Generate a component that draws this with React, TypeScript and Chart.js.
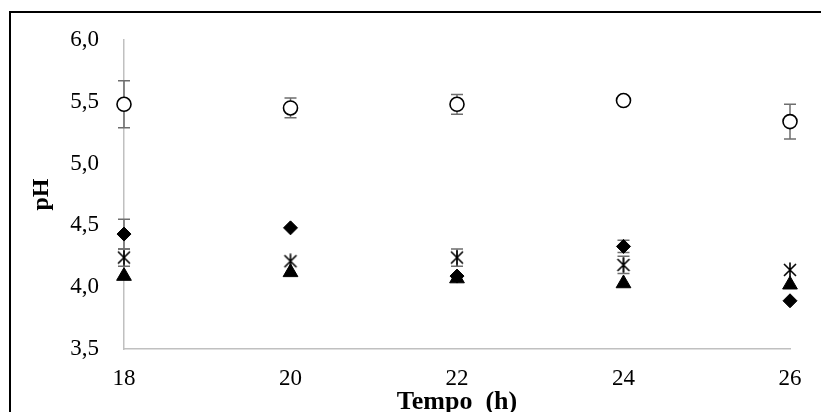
import React, { useEffect, useRef } from "react";
import { Chart, registerables } from "chart.js";

Chart.register(...registerables);

const hours = [18, 20, 22, 24, 26];
const xTicks = [18, 20, 22, 24, 26];
const yTicks = [3.5, 4.0, 4.5, 5.0, 5.5, 6.0];

const circleValues = [5.48, 5.45, 5.48, 5.51, 5.34];
const circleErrors = [0.19, 0.08, 0.08, 0, 0.14];

const diamondValues = [4.43, 4.48, 4.09, 4.33, 3.89];
const diamondErrors = [0.12, 0, 0, 0.05, 0];

const starValues = [4.24, 4.21, 4.24, 4.18, 4.14];
const starErrors = [0.07, 0, 0.07, 0.07, 0];

const triangleValues = [4.09, 4.12, 4.07, 4.03, 4.02];
const triangleErrors = [0, 0, 0, 0, 0];

const seriesErrors = [circleErrors, diamondErrors, starErrors, triangleErrors];

function makeStar(): HTMLCanvasElement {
  const c = document.createElement("canvas");
  const s = 16;
  c.width = s;
  c.height = s;
  const ctx = c.getContext("2d")!;
  ctx.strokeStyle = "#000";
  ctx.lineWidth = 1.6;
  ctx.beginPath();
  ctx.moveTo(2, 2);
  ctx.lineTo(14, 14);
  ctx.moveTo(14, 2);
  ctx.lineTo(2, 14);
  ctx.moveTo(8, 0.5);
  ctx.lineTo(8, 15.5);
  ctx.stroke();
  return c;
}

const errorBarPlugin = {
  id: "errorBars",
  beforeDatasetsDraw(chart: any) {
    const ctx = chart.ctx;
    const yScale = chart.scales.y;
    ctx.save();
    ctx.strokeStyle = "#6e6e6e";
    ctx.lineWidth = 1.5;
    chart.data.datasets.forEach((ds: any, i: number) => {
      const meta = chart.getDatasetMeta(i);
      const errs = seriesErrors[i];
      meta.data.forEach((pt: any, j: number) => {
        const e = errs[j];
        if (!e) return;
        const v = ds.data[j].y;
        const yTop = yScale.getPixelForValue(v + e);
        const yBot = yScale.getPixelForValue(v - e);
        const x = pt.x;
        const cap = 6;
        ctx.beginPath();
        ctx.moveTo(x, yTop);
        ctx.lineTo(x, yBot);
        ctx.moveTo(x - cap, yTop);
        ctx.lineTo(x + cap, yTop);
        ctx.moveTo(x - cap, yBot);
        ctx.lineTo(x + cap, yBot);
        ctx.stroke();
      });
    });
    ctx.restore();
  },
};

const toPoints = (vals: number[]) => vals.map((v, i) => ({ x: hours[i], y: v }));

export default function App() {
  const ref = useRef<HTMLCanvasElement | null>(null);

  useEffect(() => {
    if (!ref.current) return;
    const star = makeStar();
    const chart = new Chart(ref.current, {
      type: "scatter",
      data: {
        datasets: [
          {
            label: "circle",
            data: toPoints(circleValues),
            pointStyle: "circle",
            pointRadius: 7,
            pointBackgroundColor: "#ffffff",
            pointBorderColor: "#000000",
            pointBorderWidth: 1.6,
            clip: false,
          },
          {
            label: "diamond",
            data: toPoints(diamondValues),
            pointStyle: "rectRot",
            pointRadius: 7,
            pointBackgroundColor: "#000000",
            pointBorderColor: "#000000",
            pointBorderWidth: 1,
            clip: false,
          },
          {
            label: "star",
            data: toPoints(starValues),
            pointStyle: star as any,
            pointRadius: 8,
            clip: false,
          },
          {
            label: "triangle",
            data: toPoints(triangleValues),
            pointStyle: "triangle",
            pointRadius: 8.5,
            pointBackgroundColor: "#000000",
            pointBorderColor: "#000000",
            pointBorderWidth: 1,
            clip: false,
          },
        ] as any,
      },
      options: {
        responsive: false,
        animation: false,
        layout: { padding: { left: 0, right: 31, top: 40, bottom: 0 } },
        plugins: {
          legend: { display: false },
          tooltip: { enabled: false },
        },
        scales: {
          x: {
            type: "linear",
            min: 18,
            max: 26,
            afterBuildTicks: (s: any) => {
              s.ticks = xTicks.map((v) => ({ value: v }));
            },
            afterFit: (s: any) => {
              s.height = 63;
            },
            grid: { display: false, drawTicks: false },
            border: { display: true, color: "#c0c0c0", width: 1.5 },
            ticks: {
              padding: 16,
              color: "#000",
              font: { family: "Liberation Serif", size: 23 },
              callback: (v: any) => String(v),
            },
            title: {
              display: true,
              text: "Tempo  (h)",
              color: "#000",
              font: { family: "Liberation Serif", size: 26, weight: "bold", lineHeight: 0.77 },
              padding: 0,
            },
          },
          y: {
            type: "linear",
            min: 3.5,
            max: 6,
            afterBuildTicks: (s: any) => {
              s.ticks = yTicks.map((v) => ({ value: v }));
            },
            afterFit: (s: any) => {
              s.width = 124;
            },
            grid: { display: false, drawTicks: false },
            border: { display: true, color: "#c0c0c0", width: 1.5 },
            ticks: {
              padding: 25,
              color: "#000",
              font: { family: "Liberation Serif", size: 23 },
              callback: (v: any) => Number(v).toFixed(1).replace(".", ","),
            },
            title: {
              display: true,
              text: "pH",
              color: "#000",
              font: { family: "Liberation Serif", size: 24, weight: "bold" },
              padding: { top: 27, bottom: 0 },
            },
          },
        },
      },
      plugins: [errorBarPlugin],
    });
    return () => chart.destroy();
  }, []);

  return (
    <div
      style={{
        position: "fixed",
        left: 0,
        top: 0,
        width: 821,
        height: 412,
        overflow: "hidden",
        background: "#fff",
      }}
    >
      <div
        style={{
          position: "absolute",
          left: 9,
          top: 11,
          width: 2000,
          height: 2000,
          borderLeft: "2px solid #000",
          borderTop: "2px solid #000",
        }}
      />
      <canvas
        ref={ref}
        width={821}
        height={412}
        style={{ position: "absolute", left: 0, top: 0, width: 821, height: 412 }}
      />
    </div>
  );
}
